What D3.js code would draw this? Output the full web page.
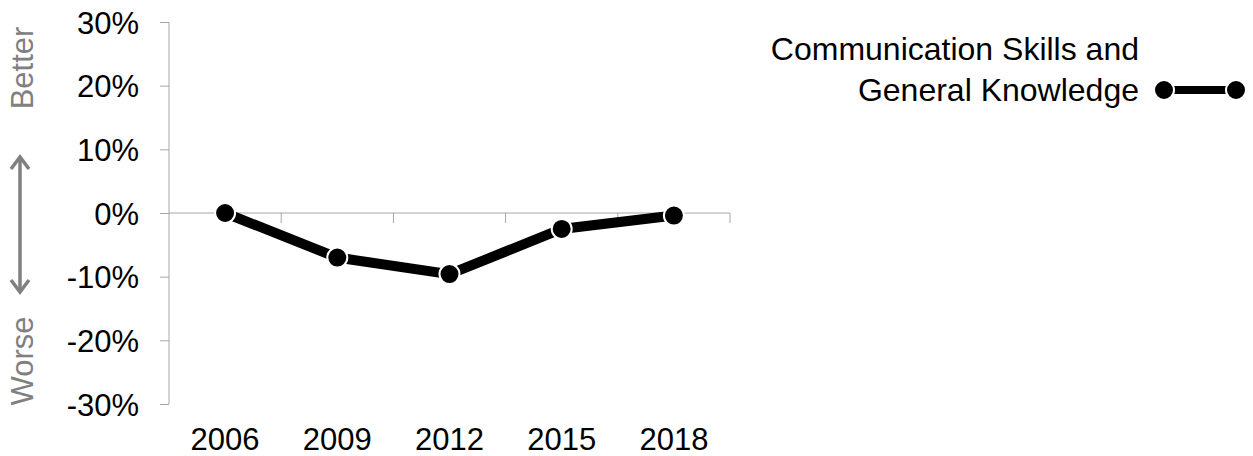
<!DOCTYPE html>
<html>
<head>
<meta charset="utf-8">
<script src="https://cdn.jsdelivr.net/npm/d3@7"></script>
<style>
  body { margin: 0; background: #fff; }
  svg { display: block; font-family: "Liberation Sans", Arial, sans-serif; }
</style>
</head>
<body>
<div id="chart"></div>
<script>
// chart values
var years = ["2006", "2009", "2012", "2015", "2018"];
var values = [0.0, -7.0, -9.6, -2.5, -0.4];
var yTicks = [30, 20, 10, 0, -10, -20, -30];
var seriesName = ["Communication Skills and", "General Knowledge"];

var width = 1253, height = 456;
var plot = { left: 169, right: 730, top: 22, bottom: 404 };

var svg = d3.select("#chart").append("svg")
    .attr("width", width)
    .attr("height", height);

var x = d3.scaleBand()
    .domain(years)
    .range([plot.left, plot.right]);

var y = d3.scaleLinear()
    .domain([-30, 30])
    .range([plot.bottom, plot.top]);

var axisColor = "#a6a6a6";

// y axis
var yAxis = svg.append("g")
    .attr("transform", "translate(" + plot.left + ",0)")
    .call(d3.axisLeft(y).tickValues(yTicks).tickSize(9).tickPadding(21)
        .tickFormat(function (d) { return d + "%"; }));
yAxis.select(".domain").attr("stroke", axisColor).attr("d", "M0," + plot.top + "V" + plot.bottom);
yAxis.selectAll(".tick line").attr("stroke", axisColor);
yAxis.selectAll(".tick text")
    .attr("fill", "#000")
    .style("font-size", "31px")
    .attr("dy", "0.36em");

// x axis sits at 0%, labels at bottom
var xAxis = svg.append("g")
    .attr("transform", "translate(0," + y(0) + ")");
xAxis.append("line")
    .attr("x1", plot.left).attr("x2", plot.right)
    .attr("stroke", axisColor);
xAxis.selectAll(".xtick")
    .data(years)
    .join("line")
    .attr("class", "xtick")
    .attr("x1", function (d) { return x(d) + x.bandwidth(); })
    .attr("x2", function (d) { return x(d) + x.bandwidth(); })
    .attr("y1", 0).attr("y2", 10)
    .attr("stroke", axisColor);

svg.selectAll(".xlabel")
    .data(years)
    .join("text")
    .attr("class", "xlabel")
    .attr("x", function (d) { return x(d) + x.bandwidth() / 2; })
    .attr("y", 450)
    .attr("text-anchor", "middle")
    .style("font-size", "31px")
    .text(function (d) { return d; });

// Better / Worse labels with arrow
svg.append("text")
    .attr("transform", "translate(33,68) rotate(-90)")
    .attr("text-anchor", "middle")
    .attr("fill", "#808080")
    .style("font-size", "31px")
    .text("Better");
svg.append("text")
    .attr("transform", "translate(33,361) rotate(-90)")
    .attr("text-anchor", "middle")
    .attr("fill", "#808080")
    .style("font-size", "31px")
    .text("Worse");

var arrow = svg.append("g")
    .attr("stroke", "#808080")
    .attr("stroke-width", 3.5)
    .attr("fill", "none");
arrow.append("line").attr("x1", 20).attr("x2", 20).attr("y1", 158).attr("y2", 291);
arrow.append("path").attr("d", "M11,169L20,157L29,169");
arrow.append("path").attr("d", "M11,280L20,292L29,280");

// series line
var line = d3.line()
    .x(function (d, i) { return x(years[i]) + x.bandwidth() / 2; })
    .y(function (d) { return y(d); });

svg.append("path")
    .datum(values)
    .attr("d", line)
    .attr("fill", "none")
    .attr("stroke", "#000")
    .attr("stroke-width", 10);

svg.selectAll(".pt")
    .data(values)
    .join("circle")
    .attr("class", "pt")
    .attr("cx", function (d, i) { return x(years[i]) + x.bandwidth() / 2; })
    .attr("cy", function (d) { return y(d); })
    .attr("r", 10)
    .attr("fill", "#000")
    .attr("stroke", "#fff")
    .attr("stroke-width", 2);

// legend
var legend = svg.append("g");
legend.selectAll("text")
    .data(seriesName)
    .join("text")
    .attr("x", 1139)
    .attr("y", function (d, i) { return 60 + i * 41; })
    .attr("text-anchor", "end")
    .style("font-size", "32px")
    .text(function (d) { return d; });
legend.append("line")
    .attr("x1", 1164).attr("x2", 1236)
    .attr("y1", 90).attr("y2", 90)
    .attr("stroke", "#000").attr("stroke-width", 8);
legend.selectAll("circle")
    .data([1164, 1236])
    .join("circle")
    .attr("cx", function (d) { return d; })
    .attr("cy", 90)
    .attr("r", 10)
    .attr("fill", "#000")
    .attr("stroke", "#fff")
    .attr("stroke-width", 2);
</script>
</body>
</html>
